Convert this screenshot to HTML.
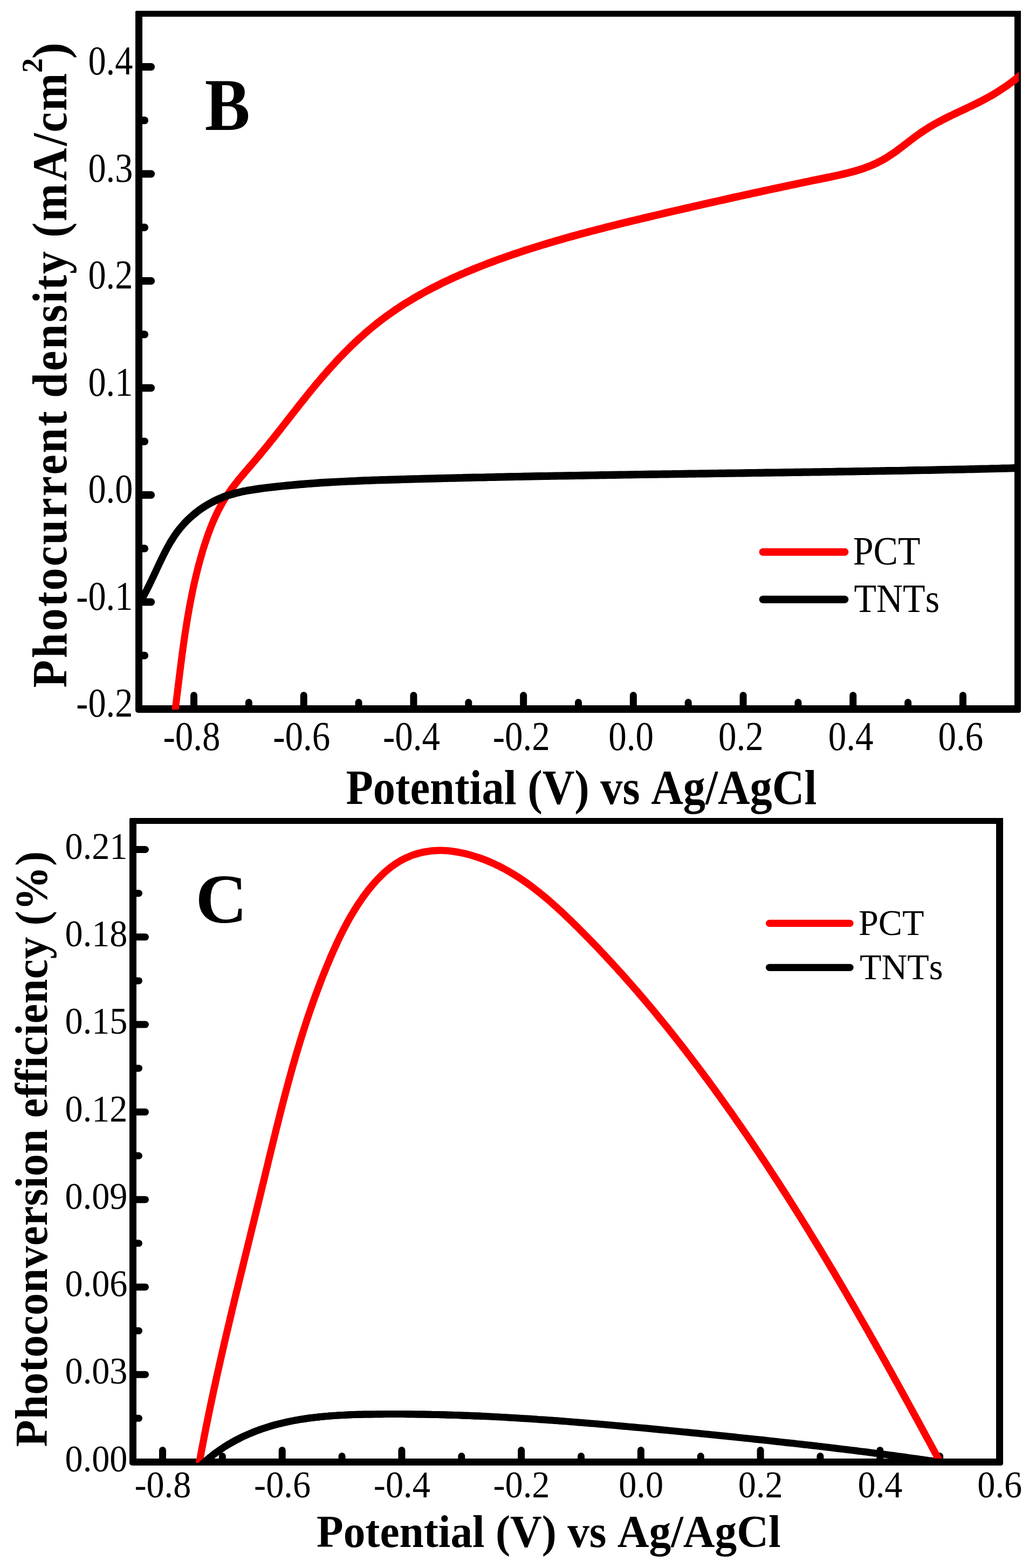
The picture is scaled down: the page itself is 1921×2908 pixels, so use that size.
<!DOCTYPE html>
<html lang="en"><head><meta charset="utf-8"><title>Photocurrent density and photoconversion efficiency</title>
<style>
html,body{margin:0;padding:0;background:#fff;}
body{width:1921px;height:2908px;overflow:hidden;}
svg{display:block;}
text{font-family:"Liberation Serif","Times New Roman",Times,serif;fill:#000;font-variant-ligatures:none;font-kerning:none;}
.b{font-weight:bold;}
.ax{fill:#000;}
</style></head><body>
<svg width="1921" height="2908" viewBox="0 0 1921 2908" role="img" aria-label="Panel B: photocurrent density versus potential; panel C: photoconversion efficiency versus potential">
<rect x="0" y="0" width="1921" height="2908" fill="#fff"/>
<g id="B">
<clipPath id="clipB"><rect x="257.5" y="25.0" width="1631.5" height="1291.0"/></clipPath>
<g shape-rendering="crispEdges">
<rect class="ax" x="251.00" y="21.00" width="13.00" height="1296.00"/>
<rect class="ax" x="1881.00" y="20.00" width="12.00" height="1300.00"/>
<rect class="ax" x="252.00" y="20.00" width="1641.00" height="11.00"/>
<rect class="ax" x="256.00" y="1308.00" width="1635.00" height="14.00"/>
</g>
<path class="ax" d="M251.0 1310.0 v7.0 a5 5 0 0 0 5 5 h8 v-12 z"/>
<path class="ax" d="M1889.0 1315.5 h4 v4 l-2.5 2.5 h-1.5 z"/>
<rect class="ax" x="255.00" y="117.00" width="32.00" height="14.00" rx="6.5"/>
<rect class="ax" x="255.00" y="315.50" width="32.00" height="14.00" rx="6.5"/>
<rect class="ax" x="255.00" y="514.00" width="32.00" height="14.00" rx="6.5"/>
<rect class="ax" x="255.00" y="712.50" width="32.00" height="14.00" rx="6.5"/>
<rect class="ax" x="255.00" y="911.00" width="32.00" height="14.00" rx="6.5"/>
<rect class="ax" x="255.00" y="1109.50" width="32.00" height="14.00" rx="6.5"/>
<rect class="ax" x="255.00" y="216.25" width="20.00" height="14.00" rx="6.5"/>
<rect class="ax" x="255.00" y="414.75" width="20.00" height="14.00" rx="6.5"/>
<rect class="ax" x="255.00" y="613.25" width="20.00" height="14.00" rx="6.5"/>
<rect class="ax" x="255.00" y="811.75" width="20.00" height="14.00" rx="6.5"/>
<rect class="ax" x="255.00" y="1010.25" width="20.00" height="14.00" rx="6.5"/>
<rect class="ax" x="255.00" y="1208.75" width="20.00" height="14.00" rx="6.5"/>
<rect class="ax" x="353.00" y="1283.00" width="13.00" height="34.00" rx="6.5"/>
<rect class="ax" x="556.71" y="1283.00" width="13.00" height="34.00" rx="6.5"/>
<rect class="ax" x="760.43" y="1283.00" width="13.00" height="34.00" rx="6.5"/>
<rect class="ax" x="964.14" y="1283.00" width="13.00" height="34.00" rx="6.5"/>
<rect class="ax" x="1167.86" y="1283.00" width="13.00" height="34.00" rx="6.5"/>
<rect class="ax" x="1371.57" y="1283.00" width="13.00" height="34.00" rx="6.5"/>
<rect class="ax" x="1575.28" y="1283.00" width="13.00" height="34.00" rx="6.5"/>
<rect class="ax" x="1779.00" y="1283.00" width="13.00" height="34.00" rx="6.5"/>
<rect class="ax" x="454.86" y="1296.00" width="13.00" height="21.00" rx="6.5"/>
<rect class="ax" x="658.57" y="1296.00" width="13.00" height="21.00" rx="6.5"/>
<rect class="ax" x="862.29" y="1296.00" width="13.00" height="21.00" rx="6.5"/>
<rect class="ax" x="1066.00" y="1296.00" width="13.00" height="21.00" rx="6.5"/>
<rect class="ax" x="1269.72" y="1296.00" width="13.00" height="21.00" rx="6.5"/>
<rect class="ax" x="1473.43" y="1296.00" width="13.00" height="21.00" rx="6.5"/>
<rect class="ax" x="1677.14" y="1296.00" width="13.00" height="21.00" rx="6.5"/>
<g clip-path="url(#clipB)"><g fill="none" stroke-linejoin="round" transform="scale(0.920 1)">
<path d="M350.5 1335.0C350.7 1333.3 351.5 1328.4 351.9 1325.0C352.4 1321.7 352.8 1318.4 353.3 1315.1C353.8 1311.8 354.2 1308.4 354.7 1305.1C355.1 1301.8 355.6 1298.5 356.0 1295.2C356.5 1291.8 356.9 1288.5 357.4 1285.2C357.8 1281.9 358.2 1278.5 358.7 1275.2C359.1 1271.9 359.6 1268.6 360.0 1265.2C360.5 1261.9 360.9 1258.6 361.4 1255.3C361.8 1251.9 362.3 1248.6 362.7 1245.3C363.2 1242.0 363.6 1238.6 364.1 1235.3C364.5 1232.0 365.0 1228.7 365.5 1225.4C365.9 1222.0 366.4 1218.7 366.9 1215.4C367.4 1212.1 367.8 1208.8 368.3 1205.4C368.8 1202.1 369.3 1198.8 369.8 1195.5C370.3 1192.2 370.8 1188.9 371.4 1185.5C371.9 1182.2 372.4 1178.9 372.9 1175.6C373.5 1172.3 374.0 1169.0 374.6 1165.7C375.1 1162.4 375.7 1159.1 376.3 1155.8C376.9 1152.5 377.4 1149.2 378.0 1145.9C378.7 1142.6 379.3 1139.3 379.9 1136.0C380.5 1132.7 381.2 1129.4 381.8 1126.1C382.5 1122.8 383.1 1119.5 383.8 1116.2C384.5 1112.9 385.2 1109.7 385.9 1106.4C386.6 1103.1 387.3 1099.8 388.1 1096.5C388.8 1093.3 389.6 1090.0 390.3 1086.7C391.1 1083.5 391.9 1080.2 392.7 1076.9C393.5 1073.7 394.4 1070.4 395.2 1067.2C396.1 1063.9 396.9 1060.7 397.8 1057.4C398.7 1054.2 399.6 1050.9 400.6 1047.7C401.5 1044.4 402.4 1041.2 403.4 1038.0C404.4 1034.7 405.4 1031.5 406.4 1028.3C407.4 1025.1 408.5 1021.8 409.5 1018.6C410.6 1015.4 411.7 1012.2 412.8 1009.0C413.9 1005.8 415.1 1002.6 416.3 999.4C417.4 996.2 418.6 993.1 419.9 989.9C421.1 986.7 422.4 983.6 423.7 980.5C425.0 977.3 426.4 974.2 427.8 971.1C429.2 968.0 430.6 965.0 432.1 961.9C433.6 958.9 435.1 955.8 436.6 952.8C438.2 949.8 439.8 946.8 441.5 943.9C443.2 940.9 444.9 938.0 446.6 935.1C448.4 932.2 450.2 929.4 452.1 926.6C454.0 923.7 456.0 921.0 458.0 918.2C459.9 915.4 462.0 912.7 464.1 910.0C466.2 907.3 468.3 904.7 470.5 902.0C472.7 899.4 474.9 896.8 477.2 894.2C479.4 891.5 481.7 889.0 484.0 886.4C486.3 883.8 488.7 881.3 491.0 878.7C493.3 876.2 495.7 873.6 498.1 871.1C500.4 868.5 502.8 866.0 505.2 863.5C507.6 860.9 509.9 858.4 512.3 855.9C514.7 853.3 517.0 850.8 519.4 848.2C521.7 845.6 524.1 843.1 526.4 840.5C528.7 837.9 531.0 835.3 533.3 832.8C535.6 830.2 537.9 827.6 540.2 825.0C542.5 822.4 544.8 819.8 547.0 817.1C549.3 814.5 551.6 811.9 553.8 809.3C556.1 806.7 558.4 804.0 560.6 801.4C562.9 798.8 565.1 796.2 567.4 793.5C569.6 790.9 571.8 788.2 574.1 785.6C576.3 783.0 578.6 780.3 580.8 777.7C583.0 775.1 585.3 772.4 587.5 769.8C589.8 767.1 592.0 764.5 594.3 761.9C596.5 759.2 598.7 756.6 601.0 754.0C603.3 751.3 605.5 748.7 607.8 746.1C610.0 743.4 612.3 740.8 614.6 738.2C616.9 735.6 619.1 733.0 621.4 730.4C623.7 727.8 626.0 725.2 628.3 722.6C630.6 720.0 633.0 717.4 635.3 714.8C637.6 712.2 639.9 709.6 642.3 707.1C644.7 704.5 647.0 702.0 649.4 699.4C651.8 696.9 654.2 694.3 656.6 691.8C659.0 689.3 661.4 686.7 663.8 684.2C666.3 681.7 668.7 679.2 671.2 676.7C673.6 674.3 676.1 671.8 678.6 669.3C681.1 666.9 683.6 664.4 686.1 662.0C688.7 659.6 691.2 657.1 693.8 654.7C696.3 652.4 698.9 650.0 701.5 647.6C704.1 645.2 706.7 642.9 709.3 640.5C711.9 638.2 714.6 635.9 717.2 633.6C719.9 631.3 722.6 629.0 725.3 626.8C727.9 624.5 730.7 622.3 733.4 620.1C736.1 617.9 738.9 615.7 741.6 613.5C744.4 611.3 747.2 609.2 750.0 607.0C752.8 604.9 755.6 602.8 758.4 600.7C761.3 598.6 764.1 596.6 767.0 594.6C769.9 592.5 772.8 590.5 775.7 588.5C778.6 586.6 781.5 584.6 784.5 582.7C787.4 580.7 790.4 578.8 793.4 576.9C796.4 575.1 799.4 573.2 802.4 571.4C805.4 569.5 808.5 567.7 811.5 565.9C814.6 564.1 817.6 562.3 820.7 560.6C823.8 558.8 826.9 557.1 830.0 555.4C833.1 553.7 836.3 552.0 839.4 550.3C842.5 548.6 845.7 547.0 848.9 545.4C852.0 543.7 855.2 542.1 858.4 540.5C861.6 538.9 864.8 537.4 868.0 535.8C871.2 534.2 874.5 532.7 877.7 531.2C881.0 529.7 884.2 528.2 887.5 526.7C890.7 525.2 894.0 523.8 897.3 522.3C900.6 520.9 903.9 519.4 907.2 518.0C910.5 516.6 913.8 515.2 917.1 513.8C920.5 512.5 923.8 511.1 927.1 509.7C930.5 508.4 933.8 507.1 937.2 505.7C940.5 504.4 943.9 503.1 947.3 501.8C950.6 500.6 954.0 499.3 957.4 498.0C960.8 496.8 964.2 495.5 967.6 494.3C971.0 493.0 974.4 491.8 977.8 490.6C981.2 489.4 984.6 488.2 988.0 487.0C991.4 485.9 994.9 484.7 998.3 483.5C1001.7 482.4 1005.1 481.2 1008.6 480.1C1012.0 479.0 1015.5 477.8 1018.9 476.7C1022.3 475.6 1025.8 474.5 1029.2 473.4C1032.7 472.3 1036.1 471.2 1039.6 470.2C1043.0 469.1 1046.5 468.0 1049.9 467.0C1053.4 465.9 1056.8 464.9 1060.3 463.8C1063.7 462.8 1067.2 461.8 1070.7 460.8C1074.1 459.8 1077.6 458.8 1081.1 457.8C1084.5 456.8 1088.0 455.8 1091.5 454.8C1095.0 453.8 1098.4 452.8 1101.9 451.9C1105.4 450.9 1108.9 450.0 1112.4 449.0C1115.8 448.1 1119.3 447.1 1122.8 446.2C1126.3 445.3 1129.8 444.3 1133.3 443.4C1136.8 442.5 1140.3 441.6 1143.7 440.7C1147.2 439.8 1150.7 438.9 1154.2 438.0C1157.7 437.1 1161.2 436.2 1164.7 435.3C1168.2 434.4 1171.7 433.6 1175.2 432.7C1178.8 431.8 1182.3 431.0 1185.8 430.1C1189.3 429.3 1192.8 428.4 1196.3 427.6C1199.8 426.7 1203.3 425.9 1206.8 425.1C1210.4 424.2 1213.9 423.4 1217.4 422.6C1220.9 421.7 1224.4 420.9 1228.0 420.1C1231.5 419.3 1235.0 418.5 1238.5 417.7C1242.0 416.9 1245.6 416.1 1249.1 415.2C1252.6 414.4 1256.2 413.7 1259.7 412.9C1263.2 412.1 1266.7 411.3 1270.3 410.5C1273.8 409.7 1277.3 408.9 1280.9 408.1C1284.4 407.3 1288.0 406.6 1291.5 405.8C1295.0 405.0 1298.6 404.2 1302.1 403.5C1305.6 402.7 1309.2 401.9 1312.7 401.2C1316.3 400.4 1319.8 399.6 1323.4 398.9C1326.9 398.1 1330.5 397.3 1334.0 396.6C1337.5 395.8 1341.1 395.0 1344.6 394.3C1348.2 393.5 1351.7 392.7 1355.3 392.0C1358.8 391.2 1362.4 390.5 1365.9 389.7C1369.5 389.0 1373.0 388.2 1376.6 387.5C1380.1 386.7 1383.7 386.0 1387.3 385.2C1390.8 384.5 1394.4 383.7 1397.9 383.0C1401.5 382.2 1405.0 381.5 1408.6 380.7C1412.2 380.0 1415.7 379.2 1419.3 378.5C1422.8 377.8 1426.4 377.0 1429.9 376.3C1433.5 375.5 1437.1 374.8 1440.6 374.1C1444.2 373.3 1447.7 372.6 1451.3 371.9C1454.9 371.1 1458.4 370.4 1462.0 369.7C1465.6 368.9 1469.1 368.2 1472.7 367.5C1476.2 366.7 1479.8 366.0 1483.4 365.3C1486.9 364.6 1490.5 363.9 1494.1 363.1C1497.6 362.4 1501.2 361.7 1504.7 361.0C1508.3 360.3 1511.9 359.5 1515.4 358.8C1519.0 358.1 1522.6 357.4 1526.1 356.7C1529.7 356.0 1533.3 355.3 1536.8 354.5C1540.4 353.8 1543.9 353.1 1547.5 352.4C1551.1 351.7 1554.6 351.0 1558.2 350.3C1561.8 349.6 1565.3 348.9 1568.9 348.2C1572.4 347.5 1576.0 346.8 1579.6 346.1C1583.1 345.4 1586.7 344.7 1590.3 344.0C1593.8 343.3 1597.4 342.6 1600.9 342.0C1604.5 341.3 1608.1 340.6 1611.6 339.9C1615.2 339.2 1618.7 338.5 1622.3 337.8C1625.9 337.2 1629.4 336.5 1633.0 335.8C1636.5 335.1 1640.1 334.4 1643.7 333.8C1647.2 333.1 1650.8 332.4 1654.3 331.7C1657.9 331.1 1661.4 330.4 1665.0 329.7C1668.5 329.0 1672.1 328.4 1675.6 327.7C1679.2 327.0 1682.7 326.3 1686.3 325.6C1689.8 324.9 1693.3 324.2 1696.9 323.4C1700.4 322.7 1703.9 321.9 1707.4 321.1C1710.9 320.3 1714.4 319.5 1717.8 318.6C1721.3 317.8 1724.7 316.9 1728.2 315.9C1731.6 315.0 1735.0 314.0 1738.4 312.9C1741.8 311.8 1745.2 310.7 1748.5 309.6C1751.9 308.4 1755.2 307.2 1758.5 305.9C1761.8 304.6 1765.0 303.2 1768.3 301.8C1771.5 300.3 1774.7 298.8 1777.9 297.2C1781.0 295.6 1784.2 293.9 1787.3 292.2C1790.4 290.4 1793.5 288.5 1796.5 286.6C1799.6 284.7 1802.6 282.8 1805.6 280.8C1808.6 278.8 1811.6 276.7 1814.6 274.7C1817.6 272.6 1820.5 270.5 1823.5 268.4C1826.5 266.3 1829.4 264.2 1832.4 262.1C1835.3 260.0 1838.3 258.0 1841.2 255.9C1844.2 253.9 1847.2 251.9 1850.2 249.9C1853.1 247.9 1856.1 246.0 1859.2 244.1C1862.2 242.3 1865.2 240.4 1868.3 238.7C1871.3 236.9 1874.4 235.2 1877.5 233.5C1880.7 231.8 1883.8 230.1 1886.9 228.5C1890.1 226.9 1893.3 225.4 1896.5 223.8C1899.6 222.3 1902.9 220.8 1906.1 219.3C1909.3 217.8 1912.5 216.3 1915.8 214.9C1919.0 213.4 1922.3 212.0 1925.5 210.6C1928.8 209.2 1932.0 207.7 1935.3 206.3C1938.6 204.9 1941.8 203.5 1945.1 202.1C1948.4 200.7 1951.6 199.2 1954.9 197.8C1958.2 196.4 1961.4 194.9 1964.7 193.4C1967.9 192.0 1971.2 190.5 1974.4 189.0C1977.7 187.4 1980.9 185.9 1984.1 184.3C1987.3 182.7 1990.5 181.1 1993.7 179.5C1996.9 177.8 2000.1 176.1 2003.2 174.4C2006.4 172.7 2009.5 170.9 2012.6 169.1C2015.7 167.3 2018.8 165.5 2021.8 163.6C2024.9 161.7 2027.9 159.8 2030.9 157.9C2033.9 155.9 2036.8 153.9 2039.8 151.9C2042.7 149.9 2045.6 147.8 2048.4 145.7C2051.3 143.6 2054.1 141.5 2056.8 139.3C2059.6 137.1 2063.6 133.8 2065.0 132.6" stroke="#ff0000" stroke-width="14.2"/>
<path d="M271.0 1132.4C272.0 1131.1 275.1 1127.0 277.1 1124.2C279.0 1121.5 280.9 1118.6 282.7 1115.8C284.6 1113.0 286.4 1110.1 288.1 1107.2C289.9 1104.4 291.6 1101.4 293.3 1098.5C295.0 1095.6 296.6 1092.6 298.2 1089.6C299.9 1086.7 301.5 1083.7 303.0 1080.7C304.6 1077.7 306.2 1074.7 307.7 1071.6C309.3 1068.6 310.8 1065.6 312.4 1062.5C313.9 1059.5 315.5 1056.4 317.0 1053.4C318.6 1050.3 320.1 1047.3 321.7 1044.2C323.3 1041.2 324.9 1038.1 326.5 1035.1C328.1 1032.0 329.7 1029.0 331.4 1026.0C333.1 1023.0 334.8 1020.0 336.5 1017.0C338.3 1014.0 340.0 1011.0 341.9 1008.1C343.7 1005.2 345.6 1002.3 347.6 999.5C349.5 996.6 351.5 993.8 353.6 991.1C355.7 988.3 357.8 985.6 360.1 983.0C362.3 980.4 364.6 977.8 367.0 975.3C369.4 972.8 371.8 970.3 374.3 967.9C376.8 965.5 379.4 963.2 382.1 960.9C384.7 958.7 387.4 956.5 390.2 954.3C392.9 952.2 395.8 950.1 398.6 948.1C401.5 946.1 404.4 944.2 407.4 942.3C410.4 940.5 413.4 938.7 416.5 937.0C419.6 935.3 422.7 933.6 425.9 932.1C429.0 930.5 432.2 929.0 435.5 927.6C438.7 926.2 442.0 924.9 445.3 923.6C448.6 922.4 452.0 921.2 455.4 920.1C458.8 919.0 462.2 918.0 465.6 917.1C469.1 916.1 472.5 915.2 476.0 914.4C479.5 913.6 483.0 912.8 486.6 912.1C490.1 911.4 493.7 910.8 497.2 910.1C500.8 909.5 504.4 909.0 508.0 908.4C511.6 907.9 515.2 907.4 518.8 906.9C522.4 906.4 526.0 906.0 529.7 905.5C533.3 905.1 536.9 904.7 540.6 904.3C544.2 903.9 547.8 903.5 551.4 903.1C555.1 902.7 558.7 902.4 562.3 902.0C565.9 901.7 569.6 901.3 573.2 901.0C576.8 900.6 580.5 900.3 584.1 900.0C587.7 899.7 591.3 899.4 595.0 899.1C598.6 898.8 602.2 898.5 605.9 898.2C609.5 897.9 613.1 897.7 616.7 897.4C620.4 897.1 624.0 896.9 627.6 896.6C631.3 896.4 634.9 896.1 638.5 895.9C642.1 895.7 645.8 895.5 649.4 895.2C653.0 895.0 656.7 894.8 660.3 894.6C663.9 894.4 667.5 894.2 671.2 894.0C674.8 893.8 678.4 893.7 682.1 893.5C685.7 893.3 689.3 893.1 692.9 893.0C696.6 892.8 700.2 892.7 703.8 892.5C707.5 892.3 711.1 892.2 714.7 892.1C718.4 891.9 722.0 891.8 725.6 891.6C729.2 891.5 732.9 891.4 736.5 891.2C740.1 891.1 743.8 891.0 747.4 890.9C751.0 890.8 754.6 890.6 758.3 890.5C761.9 890.4 765.5 890.3 769.2 890.2C772.8 890.1 776.4 890.0 780.0 889.9C783.7 889.8 787.3 889.7 790.9 889.6C794.6 889.5 798.2 889.4 801.8 889.3C805.4 889.2 809.1 889.1 812.7 889.0C816.3 888.9 820.0 888.8 823.6 888.7C827.2 888.6 830.9 888.5 834.5 888.4C838.1 888.3 841.7 888.3 845.4 888.2C849.0 888.1 852.6 888.0 856.3 887.9C859.9 887.8 863.5 887.7 867.1 887.6C870.8 887.6 874.4 887.5 878.0 887.4C881.7 887.3 885.3 887.2 888.9 887.1C892.5 887.0 896.2 887.0 899.8 886.9C903.4 886.8 907.1 886.7 910.7 886.6C914.3 886.6 918.0 886.5 921.6 886.4C925.2 886.3 928.8 886.2 932.5 886.2C936.1 886.1 939.7 886.0 943.4 885.9C947.0 885.9 950.6 885.8 954.2 885.7C957.9 885.6 961.5 885.5 965.1 885.5C968.8 885.4 972.4 885.3 976.0 885.3C979.7 885.2 983.3 885.1 986.9 885.0C990.5 885.0 994.2 884.9 997.8 884.8C1001.4 884.7 1005.1 884.7 1008.7 884.6C1012.3 884.5 1016.0 884.5 1019.6 884.4C1023.2 884.3 1026.8 884.3 1030.5 884.2C1034.1 884.1 1037.7 884.1 1041.4 884.0C1045.0 883.9 1048.6 883.9 1052.3 883.8C1055.9 883.7 1059.5 883.7 1063.1 883.6C1066.8 883.5 1070.4 883.5 1074.0 883.4C1077.7 883.3 1081.3 883.3 1084.9 883.2C1088.5 883.2 1092.2 883.1 1095.8 883.0C1099.4 883.0 1103.1 882.9 1106.7 882.8C1110.3 882.8 1114.0 882.7 1117.6 882.7C1121.2 882.6 1124.8 882.5 1128.5 882.5C1132.1 882.4 1135.7 882.4 1139.4 882.3C1143.0 882.2 1146.6 882.2 1150.3 882.1C1153.9 882.1 1157.5 882.0 1161.1 882.0C1164.8 881.9 1168.4 881.8 1172.0 881.8C1175.7 881.7 1179.3 881.7 1182.9 881.6C1186.6 881.6 1190.2 881.5 1193.8 881.5C1197.4 881.4 1201.1 881.3 1204.7 881.3C1208.3 881.2 1212.0 881.2 1215.6 881.1C1219.2 881.1 1222.9 881.0 1226.5 881.0C1230.1 880.9 1233.8 880.9 1237.4 880.8C1241.0 880.8 1244.6 880.7 1248.3 880.7C1251.9 880.6 1255.5 880.6 1259.2 880.5C1262.8 880.4 1266.4 880.4 1270.1 880.3C1273.7 880.3 1277.3 880.2 1280.9 880.2C1284.6 880.1 1288.2 880.1 1291.8 880.0C1295.5 880.0 1299.1 879.9 1302.7 879.9C1306.4 879.8 1310.0 879.8 1313.6 879.7C1317.2 879.7 1320.9 879.6 1324.5 879.6C1328.1 879.5 1331.8 879.5 1335.4 879.4C1339.0 879.4 1342.7 879.4 1346.3 879.3C1349.9 879.3 1353.6 879.2 1357.2 879.2C1360.8 879.1 1364.4 879.1 1368.1 879.0C1371.7 879.0 1375.3 878.9 1379.0 878.9C1382.6 878.8 1386.2 878.8 1389.9 878.7C1393.5 878.7 1397.1 878.6 1400.8 878.6C1404.4 878.5 1408.0 878.5 1411.6 878.4C1415.3 878.4 1418.9 878.3 1422.5 878.3C1426.2 878.3 1429.8 878.2 1433.4 878.2C1437.1 878.1 1440.7 878.1 1444.3 878.0C1447.9 878.0 1451.6 877.9 1455.2 877.9C1458.8 877.8 1462.5 877.8 1466.1 877.7C1469.7 877.7 1473.4 877.6 1477.0 877.6C1480.6 877.5 1484.3 877.5 1487.9 877.5C1491.5 877.4 1495.1 877.4 1498.8 877.3C1502.4 877.3 1506.0 877.2 1509.7 877.2C1513.3 877.1 1516.9 877.1 1520.6 877.0C1524.2 877.0 1527.8 876.9 1531.5 876.9C1535.1 876.8 1538.7 876.8 1542.3 876.7C1546.0 876.7 1549.6 876.6 1553.2 876.6C1556.9 876.6 1560.5 876.5 1564.1 876.5C1567.8 876.4 1571.4 876.4 1575.0 876.3C1578.7 876.3 1582.3 876.2 1585.9 876.2C1589.5 876.1 1593.2 876.1 1596.8 876.0C1600.4 876.0 1604.1 875.9 1607.7 875.9C1611.3 875.8 1615.0 875.8 1618.6 875.7C1622.2 875.7 1625.9 875.6 1629.5 875.6C1633.1 875.5 1636.8 875.5 1640.4 875.4C1644.0 875.4 1647.6 875.3 1651.3 875.3C1654.9 875.2 1658.5 875.2 1662.2 875.1C1665.8 875.1 1669.4 875.0 1673.1 875.0C1676.7 874.9 1680.3 874.9 1684.0 874.8C1687.6 874.7 1691.2 874.7 1694.8 874.6C1698.5 874.6 1702.1 874.5 1705.7 874.5C1709.4 874.4 1713.0 874.4 1716.6 874.3C1720.3 874.3 1723.9 874.2 1727.5 874.2C1731.2 874.1 1734.8 874.0 1738.4 874.0C1742.1 873.9 1745.7 873.9 1749.3 873.8C1752.9 873.8 1756.6 873.7 1760.2 873.7C1763.8 873.6 1767.5 873.5 1771.1 873.5C1774.7 873.4 1778.4 873.4 1782.0 873.3C1785.6 873.2 1789.3 873.2 1792.9 873.1C1796.5 873.1 1800.1 873.0 1803.8 873.0C1807.4 872.9 1811.0 872.8 1814.7 872.8C1818.3 872.7 1821.9 872.6 1825.6 872.6C1829.2 872.5 1832.8 872.5 1836.5 872.4C1840.1 872.3 1843.7 872.3 1847.4 872.2C1851.0 872.1 1854.6 872.1 1858.2 872.0C1861.9 872.0 1865.5 871.9 1869.1 871.8C1872.8 871.8 1876.4 871.7 1880.0 871.6C1883.7 871.6 1887.3 871.5 1890.9 871.4C1894.6 871.4 1898.2 871.3 1901.8 871.2C1905.5 871.1 1909.1 871.1 1912.7 871.0C1916.3 870.9 1920.0 870.9 1923.6 870.8C1927.2 870.7 1930.9 870.7 1934.5 870.6C1938.1 870.5 1941.8 870.4 1945.4 870.4C1949.0 870.3 1952.7 870.2 1956.3 870.1C1959.9 870.1 1963.6 870.0 1967.2 869.9C1970.8 869.8 1974.4 869.8 1978.1 869.7C1981.7 869.6 1985.3 869.5 1989.0 869.5C1992.6 869.4 1996.2 869.3 1999.9 869.2C2003.5 869.1 2007.1 869.1 2010.8 869.0C2014.4 868.9 2018.0 868.8 2021.7 868.7C2025.3 868.7 2028.9 868.6 2032.5 868.5C2036.2 868.4 2039.8 868.3 2043.4 868.2C2047.1 868.2 2050.7 868.1 2054.3 868.0C2058.0 867.9 2063.4 867.8 2065.2 867.7" stroke="#000000" stroke-width="14.2"/>
</g></g>
<line x1="1414.6" y1="1023.7" x2="1566.4" y2="1023.7" stroke="#ff0000" stroke-width="14.0" stroke-linecap="round"/>
<line x1="1414.6" y1="1111.8" x2="1566.4" y2="1111.8" stroke="#000000" stroke-width="14.0" stroke-linecap="round"/>
<text transform="translate(246.30 138.10) scale(0.8680 1)" font-size="76.40" text-anchor="end">0.4</text>
<text transform="translate(246.30 336.60) scale(0.8680 1)" font-size="76.40" text-anchor="end">0.3</text>
<text transform="translate(246.30 535.10) scale(0.8680 1)" font-size="76.40" text-anchor="end">0.2</text>
<text transform="translate(246.30 733.60) scale(0.8680 1)" font-size="76.40" text-anchor="end">0.1</text>
<text transform="translate(246.30 932.10) scale(0.8680 1)" font-size="76.40" text-anchor="end">0.0</text>
<text transform="translate(246.30 1130.60) scale(0.8680 1)" font-size="76.40" text-anchor="end">-0.1</text>
<text transform="translate(246.30 1329.10) scale(0.8680 1)" font-size="76.40" text-anchor="end">-0.2</text>
<text transform="translate(302.50 1390.50) scale(0.8770 1)" font-size="76.40" text-anchor="start">-0.8</text>
<text transform="translate(506.21 1390.50) scale(0.8770 1)" font-size="76.40" text-anchor="start">-0.6</text>
<text transform="translate(709.93 1390.50) scale(0.8770 1)" font-size="76.40" text-anchor="start">-0.4</text>
<text transform="translate(913.64 1390.50) scale(0.8770 1)" font-size="76.40" text-anchor="start">-0.2</text>
<text transform="translate(1128.36 1390.50) scale(0.8770 1)" font-size="76.40" text-anchor="start">0.0</text>
<text transform="translate(1332.07 1390.50) scale(0.8770 1)" font-size="76.40" text-anchor="start">0.2</text>
<text transform="translate(1535.78 1390.50) scale(0.8770 1)" font-size="76.40" text-anchor="start">0.4</text>
<text transform="translate(1739.50 1390.50) scale(0.8770 1)" font-size="76.40" text-anchor="start">0.6</text>
<text transform="translate(379.70 240.60) scale(0.9180 1)" font-size="137.10" text-anchor="start" class="b">B</text>
<text transform="translate(641.40 1490.60) scale(0.9066 1)" font-size="91.00" text-anchor="start" class="b">Potential (V) vs Ag/AgCl</text>
<text transform="translate(1581.80 1046.80) scale(0.9090 1)" font-size="74.80" text-anchor="start">PCT</text>
<text transform="translate(1583.50 1134.70) scale(0.9090 1)" font-size="74.80" text-anchor="start">TNTs</text>
<text transform="translate(123.00 1275.40) rotate(-90) scale(0.9200 1)" font-size="91.50" class="b" x="0.0 59.8 114.2 163.1 195.7 244.6 288.0 342.4 385.8 429.2 472.7 527.1 559.6 584.1 638.5 681.9 736.3 774.4 801.6 834.1 883.1 907.5 940.1 1021.6 1092.2 1119.4 1162.8" xml:space="preserve">Photocurrent density (mA/cm</text>
<text transform="translate(77.80 135.10) rotate(-90) scale(1.0000 1)" font-size="54.40" class="b" x="0.0" xml:space="preserve">2</text>
<text transform="translate(123.00 109.20) rotate(-90) scale(1.0000 1)" font-size="91.50" class="b" x="0.0" xml:space="preserve">)</text>
</g>
<g id="C">
<clipPath id="clipC"><rect x="246.5" y="1522.0" width="1608.5" height="1191.0"/></clipPath>
<g shape-rendering="crispEdges">
<rect class="ax" x="240.00" y="1518.00" width="13.00" height="1195.00"/>
<rect class="ax" x="1847.00" y="1517.00" width="13.00" height="1199.00"/>
<rect class="ax" x="241.00" y="1517.00" width="1619.00" height="11.00"/>
<rect class="ax" x="245.00" y="2705.00" width="1613.00" height="13.00"/>
</g>
<path class="ax" d="M240.0 2706.0 v7.0 a5 5 0 0 0 5 5 h8 v-12 z"/>
<path class="ax" d="M1856.0 2711.5 h4 v4 l-2.5 2.5 h-1.5 z"/>
<rect class="ax" x="244.00" y="2542.71" width="32.00" height="13.00" rx="6.5"/>
<rect class="ax" x="244.00" y="2380.43" width="32.00" height="13.00" rx="6.5"/>
<rect class="ax" x="244.00" y="2218.14" width="32.00" height="13.00" rx="6.5"/>
<rect class="ax" x="244.00" y="2055.86" width="32.00" height="13.00" rx="6.5"/>
<rect class="ax" x="244.00" y="1893.57" width="32.00" height="13.00" rx="6.5"/>
<rect class="ax" x="244.00" y="1731.28" width="32.00" height="13.00" rx="6.5"/>
<rect class="ax" x="244.00" y="1569.00" width="32.00" height="13.00" rx="6.5"/>
<rect class="ax" x="244.00" y="2623.86" width="20.00" height="13.00" rx="6.5"/>
<rect class="ax" x="244.00" y="2461.57" width="20.00" height="13.00" rx="6.5"/>
<rect class="ax" x="244.00" y="2299.28" width="20.00" height="13.00" rx="6.5"/>
<rect class="ax" x="244.00" y="2137.00" width="20.00" height="13.00" rx="6.5"/>
<rect class="ax" x="244.00" y="1974.71" width="20.00" height="13.00" rx="6.5"/>
<rect class="ax" x="244.00" y="1812.43" width="20.00" height="13.00" rx="6.5"/>
<rect class="ax" x="244.00" y="1650.14" width="20.00" height="13.00" rx="6.5"/>
<rect class="ax" x="295.00" y="2683.00" width="13.00" height="31.00" rx="6.5"/>
<rect class="ax" x="516.71" y="2683.00" width="13.00" height="31.00" rx="6.5"/>
<rect class="ax" x="738.43" y="2683.00" width="13.00" height="31.00" rx="6.5"/>
<rect class="ax" x="960.14" y="2683.00" width="13.00" height="31.00" rx="6.5"/>
<rect class="ax" x="1181.86" y="2683.00" width="13.00" height="31.00" rx="6.5"/>
<rect class="ax" x="1403.57" y="2683.00" width="13.00" height="31.00" rx="6.5"/>
<rect class="ax" x="1625.28" y="2683.00" width="13.00" height="31.00" rx="6.5"/>
<rect class="ax" x="405.86" y="2694.00" width="13.00" height="20.00" rx="6.5"/>
<rect class="ax" x="627.57" y="2694.00" width="13.00" height="20.00" rx="6.5"/>
<rect class="ax" x="849.29" y="2694.00" width="13.00" height="20.00" rx="6.5"/>
<rect class="ax" x="1071.00" y="2694.00" width="13.00" height="20.00" rx="6.5"/>
<rect class="ax" x="1292.72" y="2694.00" width="13.00" height="20.00" rx="6.5"/>
<rect class="ax" x="1514.43" y="2694.00" width="13.00" height="20.00" rx="6.5"/>
<rect class="ax" x="1736.14" y="2694.00" width="13.00" height="20.00" rx="6.5"/>
<g clip-path="url(#clipC)"><g fill="none" stroke-linejoin="round">
<path d="M368.2 2721.8C369.5 2720.6 373.3 2716.8 376.0 2714.4C378.6 2712.0 381.2 2709.7 383.9 2707.4C386.5 2705.1 389.2 2702.9 391.9 2700.8C394.6 2698.6 397.4 2696.5 400.1 2694.5C402.9 2692.4 405.7 2690.5 408.5 2688.5C411.3 2686.6 414.1 2684.7 416.9 2682.9C419.8 2681.1 422.6 2679.4 425.5 2677.7C428.4 2675.9 431.3 2674.3 434.2 2672.7C437.2 2671.1 440.1 2669.6 443.1 2668.1C446.0 2666.6 449.0 2665.1 452.0 2663.7C455.0 2662.3 458.0 2660.9 461.0 2659.6C464.0 2658.3 467.1 2657.1 470.1 2655.9C473.2 2654.6 476.2 2653.5 479.3 2652.3C482.4 2651.2 485.5 2650.1 488.6 2649.1C491.7 2648.1 494.8 2647.1 498.0 2646.1C501.1 2645.1 504.2 2644.2 507.4 2643.3C510.6 2642.4 513.7 2641.6 516.9 2640.8C520.1 2640.0 523.3 2639.2 526.5 2638.5C529.7 2637.7 532.9 2637.0 536.1 2636.4C539.3 2635.7 542.6 2635.0 545.8 2634.4C549.1 2633.8 552.3 2633.3 555.6 2632.7C558.8 2632.2 562.1 2631.7 565.4 2631.2C568.7 2630.7 572.0 2630.2 575.2 2629.8C578.5 2629.4 581.8 2629.0 585.1 2628.6C588.4 2628.2 591.8 2627.8 595.1 2627.5C598.4 2627.2 601.7 2626.9 605.1 2626.6C608.4 2626.3 611.7 2626.0 615.1 2625.8C618.4 2625.5 621.8 2625.3 625.1 2625.1C628.5 2624.9 631.8 2624.7 635.2 2624.5C638.5 2624.3 641.9 2624.2 645.2 2624.0C648.6 2623.9 652.0 2623.8 655.3 2623.6C658.7 2623.5 662.1 2623.4 665.4 2623.3C668.8 2623.2 672.2 2623.2 675.6 2623.1C678.9 2623.0 682.3 2622.9 685.7 2622.9C689.1 2622.8 692.4 2622.8 695.8 2622.8C699.2 2622.7 702.6 2622.7 705.9 2622.7C709.3 2622.6 712.7 2622.6 716.0 2622.6C719.4 2622.6 722.8 2622.6 726.1 2622.6C729.5 2622.6 732.9 2622.6 736.3 2622.6C739.6 2622.6 743.0 2622.6 746.4 2622.6C749.7 2622.6 753.1 2622.6 756.4 2622.7C759.8 2622.7 763.2 2622.7 766.5 2622.8C769.9 2622.8 773.3 2622.8 776.6 2622.9C780.0 2622.9 783.3 2623.0 786.7 2623.0C790.1 2623.1 793.4 2623.2 796.8 2623.2C800.1 2623.3 803.5 2623.4 806.9 2623.4C810.2 2623.5 813.6 2623.6 816.9 2623.7C820.3 2623.8 823.6 2623.9 827.0 2624.0C830.3 2624.1 833.7 2624.2 837.0 2624.3C840.4 2624.4 843.7 2624.5 847.1 2624.6C850.4 2624.7 853.8 2624.8 857.2 2624.9C860.5 2625.1 863.8 2625.2 867.2 2625.3C870.5 2625.4 873.9 2625.6 877.2 2625.7C880.6 2625.9 883.9 2626.0 887.3 2626.1C890.6 2626.3 894.0 2626.4 897.3 2626.6C900.7 2626.8 904.0 2626.9 907.4 2627.1C910.7 2627.2 914.0 2627.4 917.4 2627.6C920.7 2627.7 924.1 2627.9 927.4 2628.1C930.8 2628.3 934.1 2628.5 937.4 2628.6C940.8 2628.8 944.1 2629.0 947.5 2629.2C950.8 2629.4 954.1 2629.6 957.5 2629.8C960.8 2630.0 964.1 2630.2 967.5 2630.4C970.8 2630.6 974.2 2630.8 977.5 2631.0C980.8 2631.2 984.2 2631.5 987.5 2631.7C990.8 2631.9 994.2 2632.1 997.5 2632.4C1000.8 2632.6 1004.2 2632.8 1007.5 2633.0C1010.8 2633.3 1014.2 2633.5 1017.5 2633.7C1020.8 2634.0 1024.2 2634.2 1027.5 2634.5C1030.8 2634.7 1034.2 2634.9 1037.5 2635.2C1040.8 2635.4 1044.2 2635.7 1047.5 2635.9C1050.8 2636.2 1054.1 2636.5 1057.5 2636.7C1060.8 2637.0 1064.1 2637.2 1067.5 2637.5C1070.8 2637.8 1074.1 2638.0 1077.5 2638.3C1080.8 2638.6 1084.1 2638.8 1087.4 2639.1C1090.8 2639.4 1094.1 2639.7 1097.4 2639.9C1100.7 2640.2 1104.1 2640.5 1107.4 2640.8C1110.7 2641.1 1114.0 2641.3 1117.4 2641.6C1120.7 2641.9 1124.0 2642.2 1127.3 2642.5C1130.7 2642.8 1134.0 2643.1 1137.3 2643.4C1140.6 2643.7 1144.0 2644.0 1147.3 2644.3C1150.6 2644.6 1153.9 2644.9 1157.3 2645.2C1160.6 2645.5 1163.9 2645.8 1167.2 2646.1C1170.5 2646.4 1173.9 2646.7 1177.2 2647.0C1180.5 2647.3 1183.8 2647.6 1187.2 2647.9C1190.5 2648.2 1193.8 2648.5 1197.1 2648.8C1200.4 2649.1 1203.8 2649.5 1207.1 2649.8C1210.4 2650.1 1213.7 2650.4 1217.0 2650.7C1220.4 2651.0 1223.7 2651.4 1227.0 2651.7C1230.3 2652.0 1233.6 2652.3 1237.0 2652.6C1240.3 2653.0 1243.6 2653.3 1246.9 2653.6C1250.2 2653.9 1253.6 2654.3 1256.9 2654.6C1260.2 2654.9 1263.5 2655.2 1266.8 2655.6C1270.1 2655.9 1273.5 2656.2 1276.8 2656.5C1280.1 2656.9 1283.4 2657.2 1286.7 2657.5C1290.1 2657.8 1293.4 2658.2 1296.7 2658.5C1300.0 2658.8 1303.3 2659.2 1306.6 2659.5C1310.0 2659.8 1313.3 2660.2 1316.6 2660.5C1319.9 2660.8 1323.2 2661.2 1326.6 2661.5C1329.9 2661.8 1333.2 2662.2 1336.5 2662.5C1339.8 2662.8 1343.1 2663.2 1346.5 2663.5C1349.8 2663.9 1353.1 2664.2 1356.4 2664.5C1359.7 2664.9 1363.0 2665.2 1366.4 2665.6C1369.7 2665.9 1373.0 2666.3 1376.3 2666.6C1379.6 2667.0 1383.0 2667.3 1386.3 2667.6C1389.6 2668.0 1392.9 2668.3 1396.2 2668.7C1399.5 2669.0 1402.9 2669.4 1406.2 2669.8C1409.5 2670.1 1412.8 2670.5 1416.1 2670.8C1419.4 2671.2 1422.8 2671.5 1426.1 2671.9C1429.4 2672.2 1432.7 2672.6 1436.0 2673.0C1439.4 2673.3 1442.7 2673.7 1446.0 2674.1C1449.3 2674.4 1452.6 2674.8 1455.9 2675.2C1459.3 2675.5 1462.6 2675.9 1465.9 2676.3C1469.2 2676.6 1472.5 2677.0 1475.9 2677.4C1479.2 2677.7 1482.5 2678.1 1485.8 2678.5C1489.1 2678.9 1492.5 2679.3 1495.8 2679.6C1499.1 2680.0 1502.4 2680.4 1505.7 2680.8C1509.1 2681.2 1512.4 2681.5 1515.7 2681.9C1519.0 2682.3 1522.3 2682.7 1525.7 2683.1C1529.0 2683.5 1532.3 2683.9 1535.6 2684.3C1538.9 2684.7 1542.3 2685.1 1545.6 2685.5C1548.9 2685.9 1552.2 2686.3 1555.6 2686.7C1558.9 2687.1 1562.2 2687.5 1565.5 2687.9C1568.8 2688.3 1572.2 2688.7 1575.5 2689.1C1578.8 2689.5 1582.1 2689.9 1585.5 2690.3C1588.8 2690.7 1592.1 2691.2 1595.4 2691.6C1598.8 2692.0 1602.1 2692.4 1605.4 2692.8C1608.7 2693.3 1612.1 2693.7 1615.4 2694.1C1618.7 2694.5 1622.0 2695.0 1625.4 2695.4C1628.7 2695.8 1632.0 2696.3 1635.3 2696.7C1638.7 2697.1 1642.0 2697.6 1645.3 2698.0C1648.6 2698.4 1652.0 2698.9 1655.3 2699.3C1658.6 2699.8 1662.0 2700.2 1665.3 2700.7C1668.6 2701.1 1671.9 2701.6 1675.3 2702.0C1678.6 2702.5 1681.9 2702.9 1685.3 2703.4C1688.6 2703.8 1691.9 2704.3 1695.3 2704.8C1698.6 2705.2 1701.9 2705.7 1705.3 2706.2C1708.6 2706.6 1711.9 2707.1 1715.3 2707.6C1718.6 2708.1 1721.9 2708.5 1725.3 2709.0C1728.6 2709.5 1731.9 2710.0 1735.3 2710.5C1738.6 2710.9 1743.6 2711.7 1745.3 2711.9" stroke="#000000" stroke-width="13.0"/>
<path d="M366.1 2732.4C366.4 2730.8 367.2 2725.9 367.8 2722.7C368.4 2719.5 369.0 2716.2 369.6 2713.0C370.1 2709.8 370.7 2706.5 371.3 2703.3C371.9 2700.0 372.5 2696.8 373.1 2693.5C373.7 2690.3 374.3 2687.1 374.9 2683.8C375.6 2680.6 376.2 2677.3 376.8 2674.1C377.4 2670.8 378.1 2667.6 378.7 2664.3C379.3 2661.1 380.0 2657.8 380.6 2654.6C381.3 2651.3 381.9 2648.1 382.5 2644.8C383.2 2641.6 383.9 2638.3 384.5 2635.1C385.2 2631.8 385.8 2628.5 386.5 2625.3C387.2 2622.0 387.8 2618.8 388.5 2615.5C389.2 2612.3 389.9 2609.0 390.6 2605.7C391.3 2602.5 391.9 2599.2 392.6 2596.0C393.3 2592.7 394.0 2589.4 394.7 2586.2C395.4 2582.9 396.1 2579.7 396.8 2576.4C397.5 2573.1 398.2 2569.9 399.0 2566.6C399.7 2563.3 400.4 2560.1 401.1 2556.8C401.8 2553.6 402.5 2550.3 403.3 2547.0C404.0 2543.8 404.7 2540.5 405.5 2537.2C406.2 2534.0 406.9 2530.7 407.7 2527.4C408.4 2524.2 409.1 2520.9 409.9 2517.6C410.6 2514.4 411.4 2511.1 412.1 2507.8C412.9 2504.5 413.6 2501.3 414.4 2498.0C415.1 2494.7 415.9 2491.5 416.6 2488.2C417.4 2484.9 418.2 2481.7 418.9 2478.4C419.7 2475.1 420.5 2471.8 421.2 2468.6C422.0 2465.3 422.8 2462.0 423.5 2458.8C424.3 2455.5 425.1 2452.2 425.9 2449.0C426.6 2445.7 427.4 2442.4 428.2 2439.1C429.0 2435.9 429.7 2432.6 430.5 2429.3C431.3 2426.1 432.1 2422.8 432.9 2419.5C433.7 2416.2 434.5 2413.0 435.2 2409.7C436.0 2406.4 436.8 2403.2 437.6 2399.9C438.4 2396.6 439.2 2393.3 440.0 2390.1C440.8 2386.8 441.6 2383.5 442.4 2380.3C443.2 2377.0 444.0 2373.7 444.8 2370.4C445.6 2367.2 446.4 2363.9 447.2 2360.6C448.0 2357.4 448.8 2354.1 449.6 2350.8C450.4 2347.6 451.2 2344.3 452.0 2341.0C452.8 2337.8 453.6 2334.5 454.4 2331.2C455.2 2328.0 456.0 2324.7 456.8 2321.4C457.6 2318.1 458.4 2314.9 459.2 2311.6C460.0 2308.3 460.8 2305.1 461.6 2301.8C462.4 2298.6 463.2 2295.3 464.0 2292.0C464.8 2288.8 465.6 2285.5 466.4 2282.2C467.2 2279.0 468.0 2275.7 468.8 2272.4C469.6 2269.2 470.4 2265.9 471.2 2262.7C472.0 2259.4 472.8 2256.1 473.6 2252.9C474.4 2249.6 475.2 2246.4 476.0 2243.1C476.8 2239.8 477.6 2236.6 478.4 2233.3C479.2 2230.1 480.0 2226.8 480.8 2223.6C481.6 2220.3 482.4 2217.0 483.2 2213.8C484.0 2210.5 484.8 2207.3 485.5 2204.0C486.3 2200.8 487.1 2197.5 487.9 2194.3C488.7 2191.0 489.5 2187.8 490.3 2184.5C491.1 2181.3 491.8 2178.0 492.6 2174.8C493.4 2171.5 494.2 2168.3 495.0 2165.0C495.8 2161.8 496.6 2158.6 497.3 2155.3C498.1 2152.1 498.9 2148.8 499.7 2145.6C500.5 2142.3 501.3 2139.1 502.0 2135.9C502.8 2132.6 503.6 2129.4 504.4 2126.1C505.2 2122.9 506.0 2119.7 506.8 2116.4C507.6 2113.2 508.4 2110.0 509.2 2106.7C510.0 2103.5 510.7 2100.3 511.5 2097.1C512.3 2093.8 513.1 2090.6 514.0 2087.4C514.8 2084.1 515.6 2080.9 516.4 2077.7C517.2 2074.5 518.0 2071.2 518.8 2068.0C519.6 2064.8 520.4 2061.6 521.3 2058.4C522.1 2055.1 522.9 2051.9 523.7 2048.7C524.6 2045.5 525.4 2042.3 526.2 2039.1C527.1 2035.8 527.9 2032.6 528.8 2029.4C529.6 2026.2 530.5 2023.0 531.3 2019.8C532.2 2016.6 533.0 2013.4 533.9 2010.2C534.8 2007.0 535.6 2003.8 536.5 2000.6C537.4 1997.4 538.3 1994.2 539.2 1991.0C540.0 1987.8 540.9 1984.6 541.8 1981.4C542.7 1978.2 543.6 1975.0 544.6 1971.8C545.5 1968.6 546.4 1965.4 547.3 1962.2C548.2 1959.0 549.2 1955.9 550.1 1952.7C551.0 1949.5 552.0 1946.3 553.0 1943.1C553.9 1939.9 554.9 1936.8 555.8 1933.6C556.8 1930.4 557.8 1927.2 558.8 1924.1C559.8 1920.9 560.8 1917.7 561.8 1914.6C562.8 1911.4 563.8 1908.2 564.8 1905.1C565.8 1901.9 566.8 1898.7 567.9 1895.6C568.9 1892.4 570.0 1889.2 571.0 1886.1C572.1 1882.9 573.2 1879.8 574.2 1876.6C575.3 1873.5 576.4 1870.3 577.5 1867.2C578.6 1864.0 579.7 1860.9 580.8 1857.7C581.9 1854.6 583.1 1851.4 584.2 1848.3C585.4 1845.2 586.5 1842.0 587.7 1838.9C588.8 1835.7 590.0 1832.6 591.2 1829.5C592.4 1826.3 593.6 1823.2 594.8 1820.1C596.0 1817.0 597.2 1813.8 598.4 1810.7C599.7 1807.6 600.9 1804.5 602.2 1801.4C603.4 1798.2 604.7 1795.1 606.0 1792.0C607.3 1788.9 608.6 1785.8 609.9 1782.7C611.2 1779.6 612.5 1776.5 613.8 1773.4C615.2 1770.3 616.5 1767.2 617.9 1764.1C619.3 1761.0 620.7 1757.9 622.1 1754.8C623.5 1751.7 624.9 1748.7 626.3 1745.6C627.8 1742.5 629.2 1739.5 630.7 1736.4C632.2 1733.4 633.7 1730.4 635.2 1727.4C636.7 1724.3 638.3 1721.3 639.9 1718.3C641.4 1715.4 643.0 1712.4 644.7 1709.4C646.3 1706.5 648.0 1703.5 649.6 1700.6C651.3 1697.7 653.0 1694.8 654.8 1691.9C656.5 1689.0 658.3 1686.1 660.1 1683.3C661.9 1680.4 663.7 1677.6 665.6 1674.8C667.5 1672.0 669.4 1669.2 671.3 1666.5C673.2 1663.7 675.2 1661.0 677.2 1658.3C679.2 1655.6 681.3 1652.9 683.3 1650.3C685.4 1647.6 687.6 1645.0 689.7 1642.4C691.9 1639.9 694.1 1637.3 696.3 1634.9C698.6 1632.4 700.9 1629.9 703.2 1627.6C705.5 1625.2 707.9 1622.8 710.3 1620.6C712.7 1618.3 715.2 1616.1 717.7 1614.0C720.2 1611.9 722.8 1609.8 725.4 1607.8C728.0 1605.8 730.7 1603.9 733.4 1602.1C736.1 1600.3 738.9 1598.6 741.7 1596.9C744.5 1595.3 747.3 1593.7 750.3 1592.3C753.2 1590.9 756.2 1589.5 759.2 1588.3C762.2 1587.0 765.3 1585.9 768.4 1584.8C771.5 1583.8 774.6 1582.9 777.8 1582.0C781.0 1581.2 784.2 1580.5 787.5 1579.9C790.7 1579.3 794.0 1578.8 797.3 1578.3C800.6 1577.9 803.9 1577.6 807.2 1577.5C810.6 1577.3 813.9 1577.2 817.3 1577.2C820.6 1577.2 824.0 1577.4 827.4 1577.6C830.8 1577.8 834.2 1578.2 837.5 1578.6C840.9 1579.0 844.3 1579.5 847.6 1580.1C851.0 1580.7 854.4 1581.3 857.7 1582.1C861.0 1582.8 864.4 1583.6 867.7 1584.5C871.0 1585.3 874.3 1586.3 877.5 1587.3C880.8 1588.2 884.0 1589.3 887.2 1590.4C890.4 1591.5 893.5 1592.6 896.7 1593.8C899.8 1595.0 902.9 1596.2 906.0 1597.5C909.1 1598.8 912.1 1600.2 915.2 1601.5C918.2 1602.9 921.2 1604.4 924.2 1605.8C927.2 1607.3 930.1 1608.8 933.0 1610.4C936.0 1611.9 938.9 1613.5 941.8 1615.1C944.6 1616.8 947.5 1618.5 950.3 1620.2C953.2 1621.9 956.0 1623.6 958.8 1625.4C961.6 1627.2 964.4 1629.0 967.1 1630.9C969.9 1632.7 972.6 1634.6 975.3 1636.5C978.0 1638.4 980.7 1640.4 983.4 1642.3C986.1 1644.3 988.7 1646.3 991.4 1648.4C994.0 1650.4 996.6 1652.4 999.2 1654.5C1001.8 1656.6 1004.4 1658.7 1007.0 1660.8C1009.6 1663.0 1012.2 1665.1 1014.7 1667.3C1017.2 1669.5 1019.8 1671.7 1022.3 1673.9C1024.8 1676.1 1027.3 1678.3 1029.8 1680.6C1032.3 1682.8 1034.8 1685.1 1037.3 1687.4C1039.7 1689.6 1042.2 1691.9 1044.6 1694.2C1047.1 1696.6 1049.5 1698.9 1051.9 1701.2C1054.4 1703.5 1056.8 1705.9 1059.2 1708.2C1061.6 1710.6 1064.0 1712.9 1066.4 1715.3C1068.8 1717.7 1071.2 1720.0 1073.6 1722.4C1075.9 1724.8 1078.3 1727.2 1080.7 1729.5C1083.1 1731.9 1085.4 1734.3 1087.8 1736.7C1090.1 1739.1 1092.5 1741.5 1094.8 1743.9C1097.1 1746.3 1099.5 1748.7 1101.8 1751.1C1104.1 1753.6 1106.5 1756.0 1108.8 1758.4C1111.1 1760.8 1113.4 1763.3 1115.7 1765.7C1118.0 1768.1 1120.3 1770.6 1122.6 1773.0C1124.9 1775.5 1127.1 1777.9 1129.4 1780.4C1131.7 1782.8 1134.0 1785.3 1136.2 1787.8C1138.5 1790.2 1140.7 1792.7 1143.0 1795.2C1145.2 1797.7 1147.5 1800.1 1149.7 1802.6C1152.0 1805.1 1154.2 1807.6 1156.4 1810.1C1158.7 1812.6 1160.9 1815.1 1163.1 1817.6C1165.3 1820.1 1167.5 1822.6 1169.7 1825.1C1171.9 1827.6 1174.1 1830.1 1176.3 1832.7C1178.5 1835.2 1180.7 1837.7 1182.9 1840.2C1185.0 1842.8 1187.2 1845.3 1189.4 1847.8C1191.6 1850.4 1193.7 1852.9 1195.9 1855.5C1198.0 1858.0 1200.2 1860.6 1202.3 1863.1C1204.5 1865.7 1206.6 1868.2 1208.8 1870.8C1210.9 1873.4 1213.0 1875.9 1215.2 1878.5C1217.3 1881.1 1219.4 1883.6 1221.5 1886.2C1223.6 1888.8 1225.7 1891.4 1227.8 1894.0C1230.0 1896.6 1232.1 1899.2 1234.1 1901.7C1236.2 1904.3 1238.3 1906.9 1240.4 1909.5C1242.5 1912.2 1244.6 1914.8 1246.7 1917.4C1248.7 1920.0 1250.8 1922.6 1252.9 1925.2C1254.9 1927.8 1257.0 1930.5 1259.1 1933.1C1261.1 1935.7 1263.2 1938.3 1265.2 1941.0C1267.3 1943.6 1269.3 1946.2 1271.3 1948.9C1273.4 1951.5 1275.4 1954.2 1277.4 1956.8C1279.5 1959.5 1281.5 1962.1 1283.5 1964.8C1285.5 1967.4 1287.5 1970.1 1289.5 1972.7C1291.6 1975.4 1293.6 1978.1 1295.6 1980.7C1297.6 1983.4 1299.6 1986.1 1301.6 1988.7C1303.6 1991.4 1305.5 1994.1 1307.5 1996.8C1309.5 1999.5 1311.5 2002.1 1313.5 2004.8C1315.5 2007.5 1317.4 2010.2 1319.4 2012.9C1321.4 2015.6 1323.3 2018.3 1325.3 2021.0C1327.3 2023.7 1329.2 2026.4 1331.2 2029.1C1333.1 2031.8 1335.1 2034.5 1337.0 2037.2C1339.0 2039.9 1340.9 2042.7 1342.8 2045.4C1344.8 2048.1 1346.7 2050.8 1348.6 2053.5C1350.6 2056.3 1352.5 2059.0 1354.4 2061.7C1356.4 2064.4 1358.3 2067.2 1360.2 2069.9C1362.1 2072.6 1364.0 2075.4 1365.9 2078.1C1367.8 2080.8 1369.7 2083.6 1371.6 2086.3C1373.6 2089.1 1375.4 2091.8 1377.3 2094.6C1379.2 2097.3 1381.1 2100.1 1383.0 2102.8C1384.9 2105.6 1386.8 2108.4 1388.7 2111.1C1390.6 2113.9 1392.4 2116.6 1394.3 2119.4C1396.2 2122.2 1398.0 2124.9 1399.9 2127.7C1401.8 2130.5 1403.6 2133.3 1405.5 2136.0C1407.4 2138.8 1409.2 2141.6 1411.1 2144.4C1412.9 2147.1 1414.8 2149.9 1416.6 2152.7C1418.5 2155.5 1420.3 2158.3 1422.2 2161.1C1424.0 2163.9 1425.8 2166.7 1427.7 2169.5C1429.5 2172.3 1431.3 2175.1 1433.2 2177.9C1435.0 2180.7 1436.8 2183.5 1438.6 2186.3C1440.5 2189.1 1442.3 2191.9 1444.1 2194.7C1445.9 2197.5 1447.7 2200.3 1449.5 2203.1C1451.3 2205.9 1453.2 2208.7 1455.0 2211.6C1456.8 2214.4 1458.6 2217.2 1460.4 2220.0C1462.2 2222.8 1463.9 2225.7 1465.7 2228.5C1467.5 2231.3 1469.3 2234.1 1471.1 2237.0C1472.9 2239.8 1474.7 2242.6 1476.4 2245.5C1478.2 2248.3 1480.0 2251.1 1481.8 2254.0C1483.6 2256.8 1485.3 2259.6 1487.1 2262.5C1488.9 2265.3 1490.6 2268.2 1492.4 2271.0C1494.2 2273.9 1495.9 2276.7 1497.7 2279.6C1499.4 2282.4 1501.2 2285.3 1502.9 2288.1C1504.7 2291.0 1506.4 2293.8 1508.2 2296.7C1509.9 2299.5 1511.7 2302.4 1513.4 2305.2C1515.1 2308.1 1516.9 2311.0 1518.6 2313.8C1520.4 2316.7 1522.1 2319.5 1523.8 2322.4C1525.6 2325.3 1527.3 2328.1 1529.0 2331.0C1530.7 2333.9 1532.5 2336.8 1534.2 2339.6C1535.9 2342.5 1537.6 2345.4 1539.3 2348.2C1541.0 2351.1 1542.8 2354.0 1544.5 2356.9C1546.2 2359.8 1547.9 2362.6 1549.6 2365.5C1551.3 2368.4 1553.0 2371.3 1554.7 2374.2C1556.4 2377.0 1558.1 2379.9 1559.8 2382.8C1561.5 2385.7 1563.2 2388.6 1564.9 2391.5C1566.6 2394.4 1568.3 2397.3 1570.0 2400.1C1571.6 2403.0 1573.3 2405.9 1575.0 2408.8C1576.7 2411.7 1578.4 2414.6 1580.1 2417.5C1581.7 2420.4 1583.4 2423.3 1585.1 2426.2C1586.8 2429.1 1588.4 2432.0 1590.1 2434.9C1591.8 2437.8 1593.4 2440.7 1595.1 2443.6C1596.8 2446.5 1598.4 2449.4 1600.1 2452.3C1601.8 2455.2 1603.4 2458.1 1605.1 2461.0C1606.7 2463.9 1608.4 2466.8 1610.1 2469.8C1611.7 2472.7 1613.4 2475.6 1615.0 2478.5C1616.7 2481.4 1618.3 2484.3 1620.0 2487.2C1621.6 2490.1 1623.3 2493.0 1624.9 2496.0C1626.5 2498.9 1628.2 2501.8 1629.8 2504.7C1631.5 2507.6 1633.1 2510.5 1634.7 2513.4C1636.4 2516.4 1638.0 2519.3 1639.6 2522.2C1641.3 2525.1 1642.9 2528.0 1644.5 2531.0C1646.2 2533.9 1647.8 2536.8 1649.4 2539.7C1651.0 2542.6 1652.7 2545.6 1654.3 2548.5C1655.9 2551.4 1657.5 2554.3 1659.1 2557.2C1660.8 2560.2 1662.4 2563.1 1664.0 2566.0C1665.6 2568.9 1667.2 2571.9 1668.8 2574.8C1670.5 2577.7 1672.1 2580.6 1673.7 2583.6C1675.3 2586.5 1676.9 2589.4 1678.5 2592.4C1680.1 2595.3 1681.7 2598.2 1683.3 2601.1C1684.9 2604.1 1686.5 2607.0 1688.1 2609.9C1689.7 2612.8 1691.3 2615.8 1692.9 2618.7C1694.5 2621.6 1696.1 2624.6 1697.7 2627.5C1699.3 2630.4 1700.9 2633.4 1702.5 2636.3C1704.1 2639.2 1705.7 2642.1 1707.3 2645.1C1708.9 2648.0 1710.5 2650.9 1712.1 2653.9C1713.7 2656.8 1715.3 2659.7 1716.8 2662.7C1718.4 2665.6 1720.0 2668.5 1721.6 2671.4C1723.2 2674.4 1724.8 2677.3 1726.4 2680.2C1727.9 2683.2 1729.5 2686.1 1731.1 2689.0C1732.7 2692.0 1734.3 2694.9 1735.8 2697.8C1737.4 2700.8 1739.0 2703.7 1740.6 2706.6C1742.2 2709.5 1744.5 2713.9 1745.3 2715.4" stroke="#ff0000" stroke-width="13.3"/>
<path d="M368.2 2721.8C369.5 2720.6 373.3 2716.8 376.0 2714.4C378.6 2712.0 381.2 2709.7 383.9 2707.4C386.5 2705.1 389.2 2702.9 391.9 2700.8C394.6 2698.6 397.4 2696.5 400.1 2694.5C402.9 2692.4 405.7 2690.5 408.5 2688.5C411.3 2686.6 414.1 2684.7 416.9 2682.9C419.8 2681.1 422.6 2679.4 425.5 2677.7C428.4 2675.9 431.3 2674.3 434.2 2672.7C437.2 2671.1 440.1 2669.6 443.1 2668.1C446.0 2666.6 449.0 2665.1 452.0 2663.7C455.0 2662.3 458.0 2660.9 461.0 2659.6C464.0 2658.3 467.1 2657.1 470.1 2655.9C473.2 2654.6 476.2 2653.5 479.3 2652.3C482.4 2651.2 485.5 2650.1 488.6 2649.1C491.7 2648.1 494.8 2647.1 498.0 2646.1C501.1 2645.1 504.2 2644.2 507.4 2643.3C510.6 2642.4 513.7 2641.6 516.9 2640.8C520.1 2640.0 523.3 2639.2 526.5 2638.5C529.7 2637.7 532.9 2637.0 536.1 2636.4C539.3 2635.7 542.6 2635.0 545.8 2634.4C549.1 2633.8 552.3 2633.3 555.6 2632.7C558.8 2632.2 562.1 2631.7 565.4 2631.2C568.7 2630.7 572.0 2630.2 575.2 2629.8C578.5 2629.4 581.8 2629.0 585.1 2628.6C588.4 2628.2 591.8 2627.8 595.1 2627.5C598.4 2627.2 601.7 2626.9 605.1 2626.6C608.4 2626.3 611.7 2626.0 615.1 2625.8C618.4 2625.5 621.8 2625.3 625.1 2625.1C628.5 2624.9 631.8 2624.7 635.2 2624.5C638.5 2624.3 641.9 2624.2 645.2 2624.0C648.6 2623.9 652.0 2623.8 655.3 2623.6C658.7 2623.5 662.1 2623.4 665.4 2623.3C668.8 2623.2 672.2 2623.2 675.6 2623.1C678.9 2623.0 682.3 2622.9 685.7 2622.9C689.1 2622.8 692.4 2622.8 695.8 2622.8C699.2 2622.7 702.6 2622.7 705.9 2622.7C709.3 2622.6 712.7 2622.6 716.0 2622.6C719.4 2622.6 722.8 2622.6 726.1 2622.6C729.5 2622.6 732.9 2622.6 736.3 2622.6C739.6 2622.6 743.0 2622.6 746.4 2622.6C749.7 2622.6 753.1 2622.6 756.4 2622.7C759.8 2622.7 763.2 2622.7 766.5 2622.8C769.9 2622.8 773.3 2622.8 776.6 2622.9C780.0 2622.9 783.3 2623.0 786.7 2623.0C790.1 2623.1 793.4 2623.2 796.8 2623.2C800.1 2623.3 803.5 2623.4 806.9 2623.4C810.2 2623.5 813.6 2623.6 816.9 2623.7C820.3 2623.8 823.6 2623.9 827.0 2624.0C830.3 2624.1 833.7 2624.2 837.0 2624.3C840.4 2624.4 843.7 2624.5 847.1 2624.6C850.4 2624.7 853.8 2624.8 857.2 2624.9C860.5 2625.1 863.8 2625.2 867.2 2625.3C870.5 2625.4 873.9 2625.6 877.2 2625.7C880.6 2625.9 883.9 2626.0 887.3 2626.1C890.6 2626.3 895.6 2626.5 897.3 2626.6" stroke="#000000" stroke-width="13.0"/>
</g></g>
<rect class="ax" x="1700.00" y="2705.00" width="100.00" height="13.00"/>
<line x1="1426.6" y1="1712.4" x2="1576.0" y2="1712.4" stroke="#ff0000" stroke-width="13.3" stroke-linecap="round"/>
<line x1="1426.6" y1="1794.3" x2="1576.0" y2="1794.3" stroke="#000000" stroke-width="13.3" stroke-linecap="round"/>
<text transform="translate(236.50 2728.70) scale(0.9500 1)" font-size="69.80" text-anchor="end">0.00</text>
<text transform="translate(236.50 2566.41) scale(0.9500 1)" font-size="69.80" text-anchor="end">0.03</text>
<text transform="translate(236.50 2404.13) scale(0.9500 1)" font-size="69.80" text-anchor="end">0.06</text>
<text transform="translate(236.50 2241.84) scale(0.9500 1)" font-size="69.80" text-anchor="end">0.09</text>
<text transform="translate(236.50 2079.56) scale(0.9500 1)" font-size="69.80" text-anchor="end">0.12</text>
<text transform="translate(236.50 1917.27) scale(0.9500 1)" font-size="69.80" text-anchor="end">0.15</text>
<text transform="translate(236.50 1754.98) scale(0.9500 1)" font-size="69.80" text-anchor="end">0.18</text>
<text transform="translate(236.50 1592.70) scale(0.9500 1)" font-size="69.80" text-anchor="end">0.21</text>
<text transform="translate(249.40 2777.40) scale(0.9500 1)" font-size="69.80" text-anchor="start">-0.8</text>
<text transform="translate(471.11 2777.40) scale(0.9500 1)" font-size="69.80" text-anchor="start">-0.6</text>
<text transform="translate(692.83 2777.40) scale(0.9500 1)" font-size="69.80" text-anchor="start">-0.4</text>
<text transform="translate(914.54 2777.40) scale(0.9500 1)" font-size="69.80" text-anchor="start">-0.2</text>
<text transform="translate(1147.16 2777.40) scale(0.9500 1)" font-size="69.80" text-anchor="start">0.0</text>
<text transform="translate(1368.87 2777.40) scale(0.9500 1)" font-size="69.80" text-anchor="start">0.2</text>
<text transform="translate(1590.58 2777.40) scale(0.9500 1)" font-size="69.80" text-anchor="start">0.4</text>
<text transform="translate(1812.30 2777.40) scale(0.9500 1)" font-size="69.80" text-anchor="start">0.6</text>
<text transform="translate(362.50 1710.80) scale(1.0340 1)" font-size="128.30" text-anchor="start" class="b">C</text>
<text transform="translate(587.00 2868.90) scale(0.9670 1)" font-size="84.10" text-anchor="start" class="b">Potential (V) vs Ag/AgCl</text>
<text transform="translate(1592.00 1733.90) scale(0.9660 1)" font-size="68.60" text-anchor="start">PCT</text>
<text transform="translate(1594.00 1816.00) scale(0.9660 1)" font-size="68.60" text-anchor="start">TNTs</text>
<text transform="translate(86.60 2683.40) rotate(-90) scale(0.9600 1)" font-size="85.50" class="b" x="0.0 52.7 100.8 144.0 172.7 215.9 254.2 297.4 345.4 388.6 426.9 465.2 498.9 522.8 566.0 614.1 635.6 674.0 702.7 731.5 755.5 793.8 817.8 856.1 904.1 942.5 985.7 1007.2 1036.0 1122.4" xml:space="preserve">Photoconversion efficiency (%)</text>
</g>
</svg>
</body></html>
